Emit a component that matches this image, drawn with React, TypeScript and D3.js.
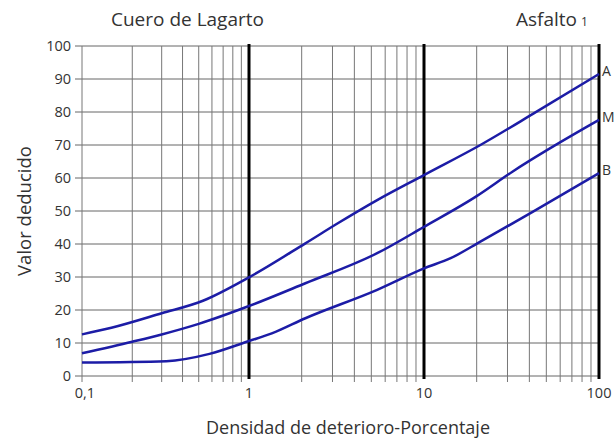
import * as d3 from 'd3'

// Densidad de deterioro (%) vs valor deducido
const densA = [0.1, 0.15, 0.3, 0.53, 1, 2.1, 3.2, 5.4, 10, 21, 44, 100]
const valA = [12.6, 14.6, 19, 22.8, 29.9, 40.2, 46.2, 53.3, 60.9, 70, 80.1, 91.5]
const densM = [0.1, 0.2, 0.3, 0.5, 1, 2.1, 5.4, 10, 20, 32, 100]
const valM = [6.9, 10.4, 12.6, 15.8, 21.2, 28.1, 37.2, 45.2, 54.5, 61.9, 77.6]
const densB = [0.1, 0.32, 0.58, 1, 1.35, 2.1, 5.4, 10, 14.2, 21, 42, 100]
const valB = [4.1, 4.5, 6.7, 10.6, 12.9, 17.5, 26.1, 32.6, 35.7, 40.7, 49.8, 61.5]

const seriesNames = ['A', 'M', 'B']
const yTicks = [0, 10, 20, 30, 40, 50, 60, 70, 80, 90, 100]
const xTickValues = [0.1, 1, 10, 100]
const xTickLabels = ['0,1', '1', '10', '100']
const majorLines = [1, 10, 100]

const W = 615
const H = 441
const font = '"Open Sans", "Noto Sans", sans-serif'
const textColor = '#333'
const blue = '#1c1ca6'

export default function App() {
  const x = d3.scaleLog().domain([0.1, 1, 100]).range([82, 249, 599])
  const y = d3.scaleLinear().domain([0, 100]).range([376, 46])

  const minor: number[] = []
  ;[0.1, 1, 10].forEach(d => {
    for (let k = 1; k <= 9; k++) minor.push(+(k * d).toFixed(2))
  })

  const series = [
    { name: seriesNames[0], pts: densA.map((d, i) => [d, valA[i]]) },
    { name: seriesNames[1], pts: densM.map((d, i) => [d, valM[i]]) },
    { name: seriesNames[2], pts: densB.map((d, i) => [d, valB[i]]) },
  ]

  const line = d3.line<number[]>()
    .x(d => x(d[0]))
    .y(d => y(d[1]))
    .curve(d3.curveMonotoneX)

  const [x0, x1] = [x(0.1), x(100)]
  const [yb, yt] = [y(0), y(100)]

  return (
    <svg width={W} height={H} style={{ position: 'absolute', left: 0, top: 0, background: '#fff' }}
      fontFamily={font}>
      {/* horizontal grid */}
      {yTicks.map(t => (
        <line key={'h' + t} x1={x0 - 7} x2={x1} y1={y(t)} y2={y(t)} stroke="#666" strokeWidth={1} />
      ))}
      {/* vertical grid (log) */}
      {minor.filter(v => !majorLines.includes(v)).map(v => (
        <line key={'v' + v} x1={x(v)} x2={x(v)} y1={yt} y2={yb + 6} stroke="#777" strokeWidth={1} />
      ))}
      {majorLines.map(v => (
        <line key={'m' + v} x1={x(v)} x2={x(v)} y1={yt - 2} y2={yb + 3} stroke="#000" strokeWidth={3} />
      ))}

      {/* y tick labels */}
      {yTicks.map(t => (
        <text key={'yl' + t} x={71} y={y(t)} dy="0.35em" textAnchor="end" fontSize={14.5} fill={textColor}>{t}</text>
      ))}
      {/* x tick labels */}
      {xTickValues.map((v, i) => (
        <text key={'xl' + v} x={x(v) + (i === 0 ? 3 : 0)} y={393} dy="0.35em" textAnchor="middle" fontSize={14.5} fill={textColor}>
          {xTickLabels[i]}
        </text>
      ))}

      {/* curves */}
      {series.map(s => (
        <g key={s.name}>
          <path d={line(s.pts) || ''} fill="none" stroke={blue} strokeWidth={2.5} />
          <text x={602} y={y(s.pts[s.pts.length - 1][1]) - 3} dy="0.35em" fontSize={14} fill={textColor}>{s.name}</text>
        </g>
      ))}

      {/* titles */}
      <text x={111} y={26} fontSize={19} fill={textColor}>Cuero de Lagarto</text>
      <text x={516} y={26} fontSize={19} fill={textColor}>Asfalto<tspan fontSize={12} dx={4}>1</tspan></text>
      <text transform={`translate(31,${(yb + yt) / 2}) rotate(-90)`} textAnchor="middle" fontSize={18.5} fill={textColor}>
        Valor deducido
      </text>
      <text x={348} y={434} textAnchor="middle" fontSize={18} fill={textColor}>Densidad de deterioro-Porcentaje</text>
    </svg>
  )
}
